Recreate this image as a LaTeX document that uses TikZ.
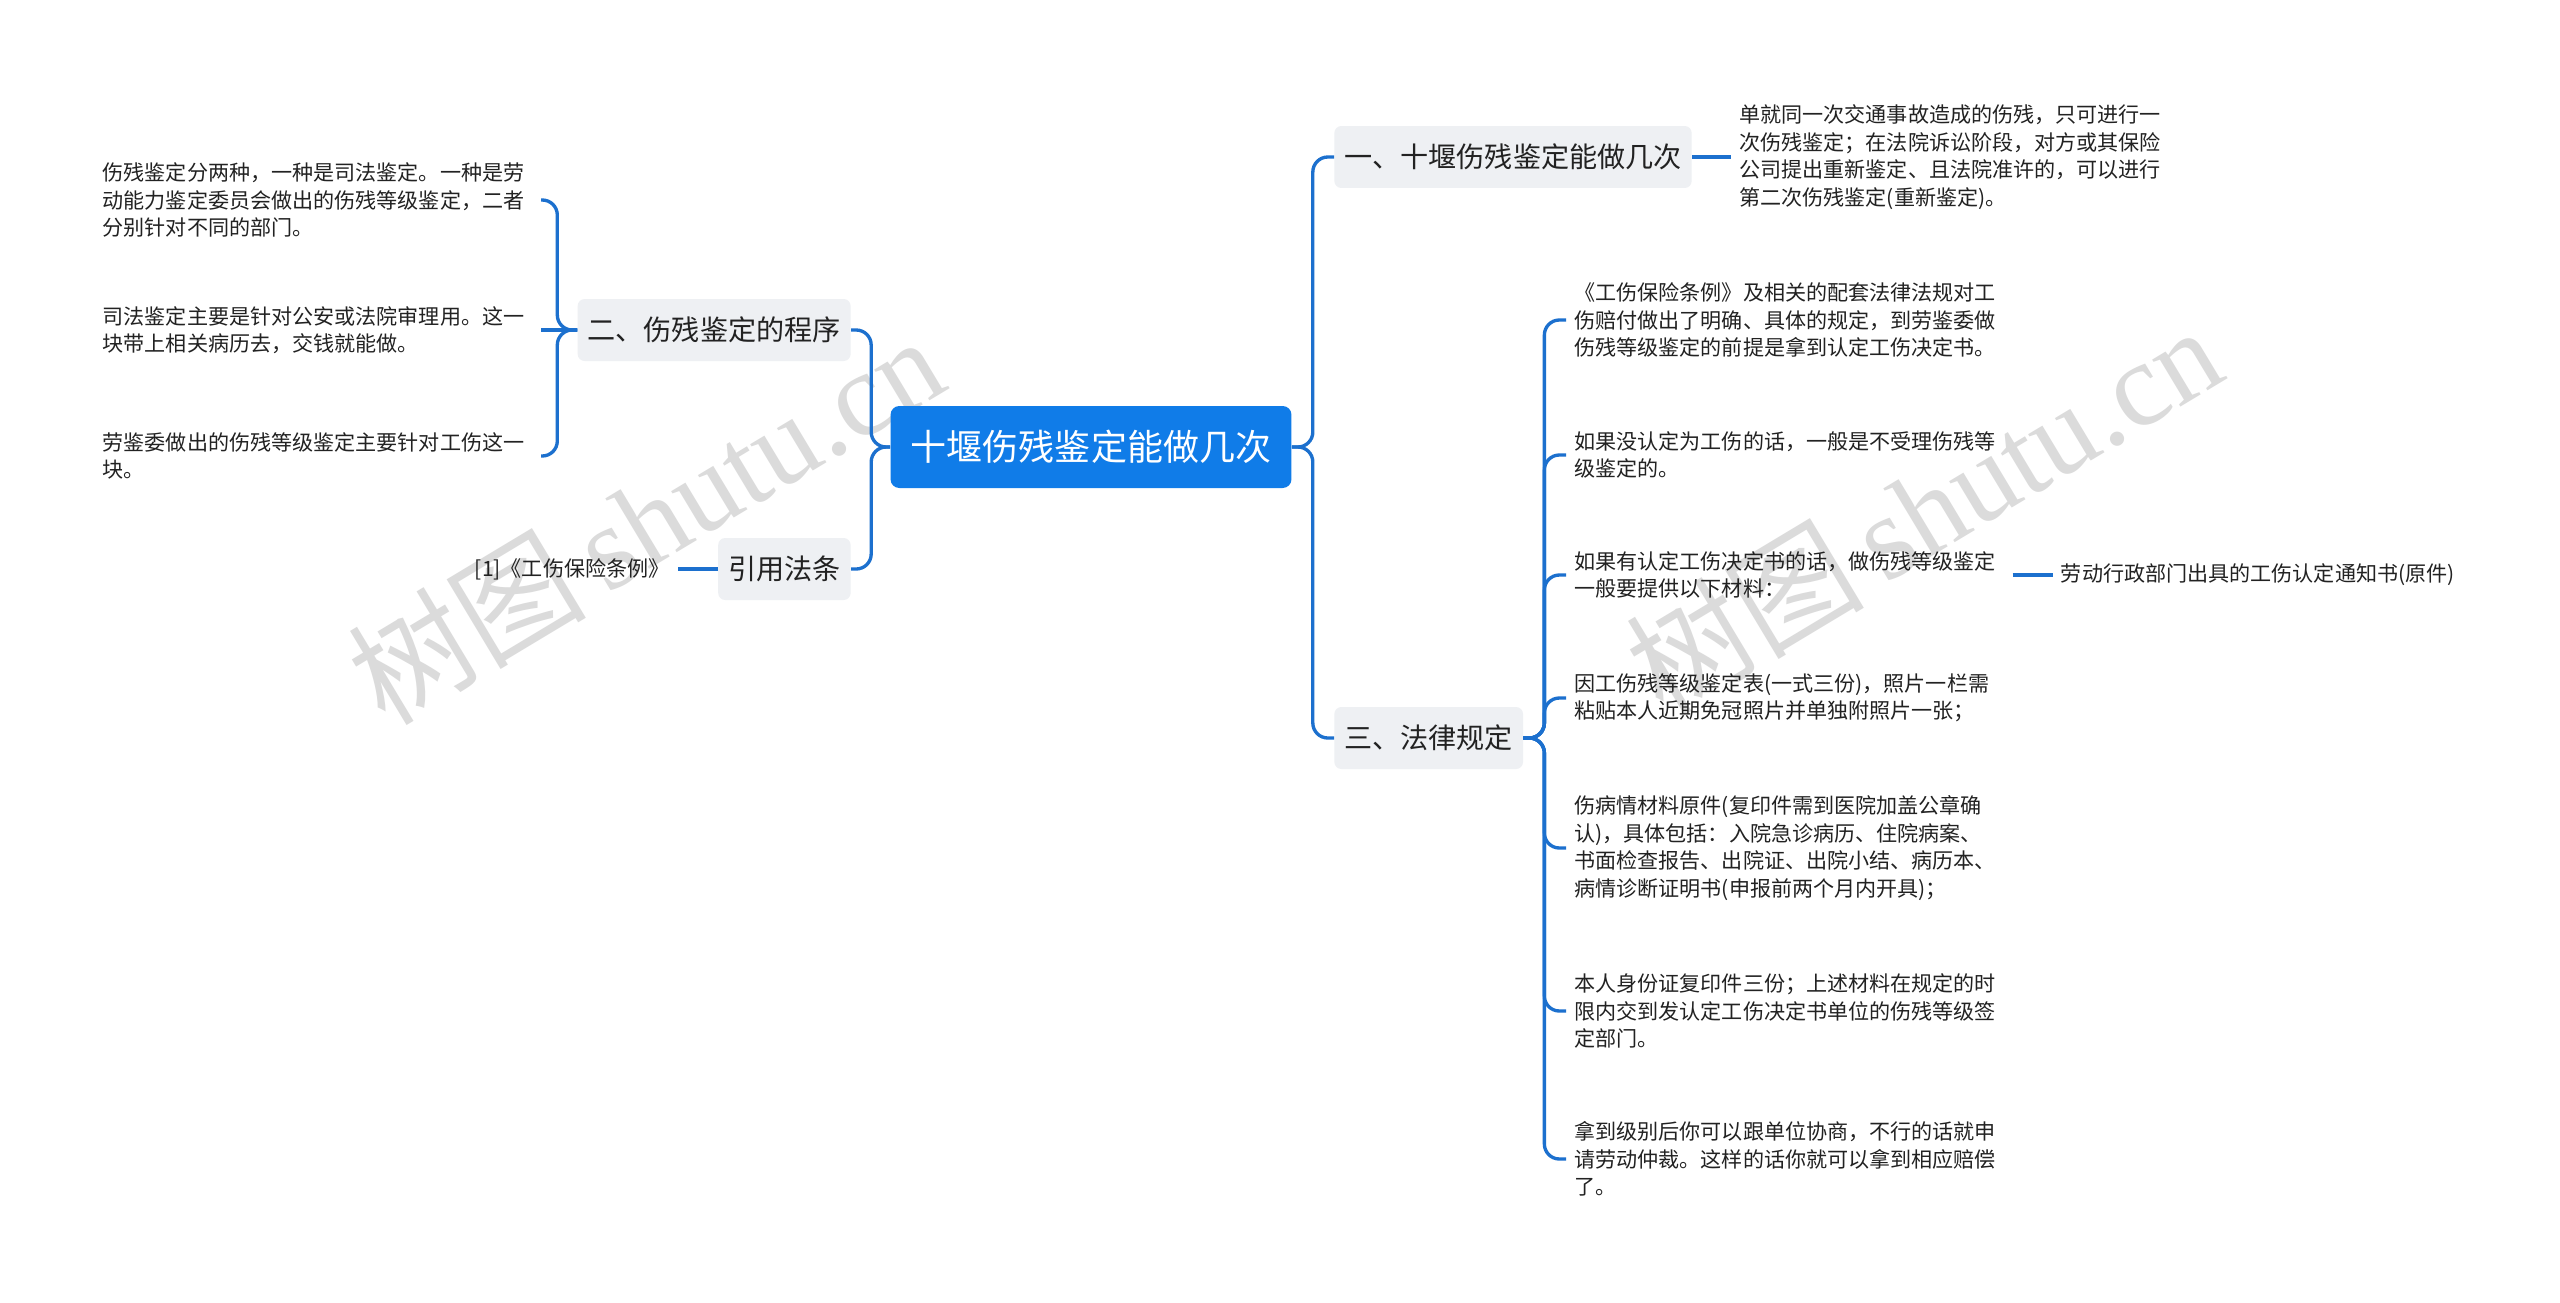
\documentclass[tikz,border=0pt]{standalone}
\usepackage{fontspec}
\setmainfont{Noto Sans CJK SC}
\newfontfamily\wmfont{Liberation Serif}
\usetikzlibrary{positioning}
\definecolor{rootblue}{RGB}{16,124,232}
\definecolor{edgeblue}{RGB}{28,112,206}
\definecolor{topicgray}{RGB}{238,240,243}
\definecolor{txtdark}{RGB}{34,34,34}

\begin{document}
\begin{tikzpicture}[x=0.02cm,y=-0.02cm,
  root/.style={rectangle,rounded corners=5pt,fill=rootblue,text=white,font=\fontsize{20.5}{24}\selectfont,minimum width=8.02cm,minimum height=1.64cm},
  topic/.style={rectangle,rounded corners=4pt,fill=topicgray,text=txtdark,font=\fontsize{16}{20}\selectfont,inner xsep=0.2cm,minimum height=1.24cm},
  leaf/.style={align=left,text width=8.6cm,inner xsep=0.16cm,inner ysep=0.1cm,text=txtdark,font=\fontsize{12}{15.6}\selectfont},
  plain/.style={inner xsep=0.16cm,text=txtdark,font=\fontsize{12}{15.6}\selectfont},
  link/.style={draw=edgeblue,line width=1.9pt,rounded corners=0.3cm},
  wmark/.style={text=black!20,opacity=0.7,rotate=31,font=\fontsize{68}{70}\selectfont}]
\fill[white] (0,0) rectangle (2560,1302);
\useasboundingbox (0,0) rectangle (2560,1302);
% Watermark (behind everything)
\node[wmark](wm1) at (645,519) {树图\,{\wmfont shutu.cn}};
\node[wmark](wm2) at (1923,509) {树图\,{\wmfont shutu.cn}};
%Central topic
\draw(1091,447) node[root](root){十堰伤残鉴定能做几次};
%Main branches
\node[topic,anchor=west](b1) at (1334,157) {一、十堰伤残鉴定能做几次};
\node[topic,anchor=east](b2) at (851,330) {二、伤残鉴定的程序};
\node[topic,anchor=west](b3) at (1334,738) {三、法律规定};
\node[topic,anchor=east](b4) at (851,569) {引用法条};
% Branch 1
\node[leaf,anchor=west](t1) at (1731,157) {单就同一次交通事故造成的伤残，只可进行一\\次伤残鉴定；在法院诉讼阶段，对方或其保险\\公司提出重新鉴定、且法院准许的，可以进行\\第二次伤残鉴定(重新鉴定)。};
% Branch 2
\node[leaf,anchor=east](l1) at (541,200) {伤残鉴定分两种，一种是司法鉴定。一种是劳\\动能力鉴定委员会做出的伤残等级鉴定，二者\\分别针对不同的部门。};
\node[leaf,anchor=east](l2) at (541,330) {司法鉴定主要是针对公安或法院审理用。这一\\块带上相关病历去，交钱就能做。};
\node[leaf,anchor=east](l3) at (541,456) {劳鉴委做出的伤残等级鉴定主要针对工伤这一\\块。};
% Branch 3
\node[leaf,anchor=west](r1) at (1566,320) {《工伤保险条例》及相关的配套法律法规对工\\伤赔付做出了明确、具体的规定，到劳鉴委做\\伤残等级鉴定的前提是拿到认定工伤决定书。};
\node[leaf,anchor=west](r2) at (1566,455) {如果没认定为工伤的话，一般是不受理伤残等\\级鉴定的。};
\node[leaf,anchor=west](r3) at (1566,575) {如果有认定工伤决定书的话，做伤残等级鉴定\\一般要提供以下材料：};
\node[plain,right=0.8cm of r3](r3a){劳动行政部门出具的工伤认定通知书(原件)};
\node[leaf,anchor=west](r4) at (1566,698) {因工伤残等级鉴定表(一式三份)，照片一栏需\\粘贴本人近期免冠照片并单独附照片一张；};
\node[leaf,anchor=west](r5) at (1566,848) {伤病情材料原件(复印件需到医院加盖公章确\\认)，具体包括：入院急诊病历、住院病案、\\书面检查报告、出院证、出院小结、病历本、\\病情诊断证明书(申报前两个月内开具)；};
\node[leaf,anchor=west](r6) at (1566,1011) {本人身份证复印件三份；上述材料在规定的时\\限内交到发认定工伤决定书单位的伤残等级签\\定部门。};
\node[leaf,anchor=west](r7) at (1566,1159) {拿到级别后你可以跟单位协商，不行的话就申\\请劳动仲裁。这样的话你就可以拿到相应赔偿\\了。};
% Citation
\node[plain,left=0.8cm of b4](cite){[1]《工伤保险条例》};
% Connectors
\draw[link] (root.east) -- ++(21,0) |- (b1.west);
\draw[link] (root.east) -- ++(21,0) |- (b3.west);
\draw[link] (root.west) -- ++(-19,0) |- (b2.east);
\draw[link] (root.west) -- ++(-19,0) |- (b4.east);
\draw[link] (b1.east) -- (t1.west);
\foreach \n in {l1,l3}
  \draw[link] (b2.west) -- ++(-20,0) |- (\n.east);
\draw[link] (b2.west) -- (l2.east);
\foreach \n in {r1,r2,r3,r4,r5,r6,r7}
  \draw[link] (b3.east) -- ++(21,0) |- (\n.west);
\draw[link] (r3.east) -- (r3a.west);
\draw[link] (b4.west) -- (cite.east);
\end{tikzpicture}
\end{document}
